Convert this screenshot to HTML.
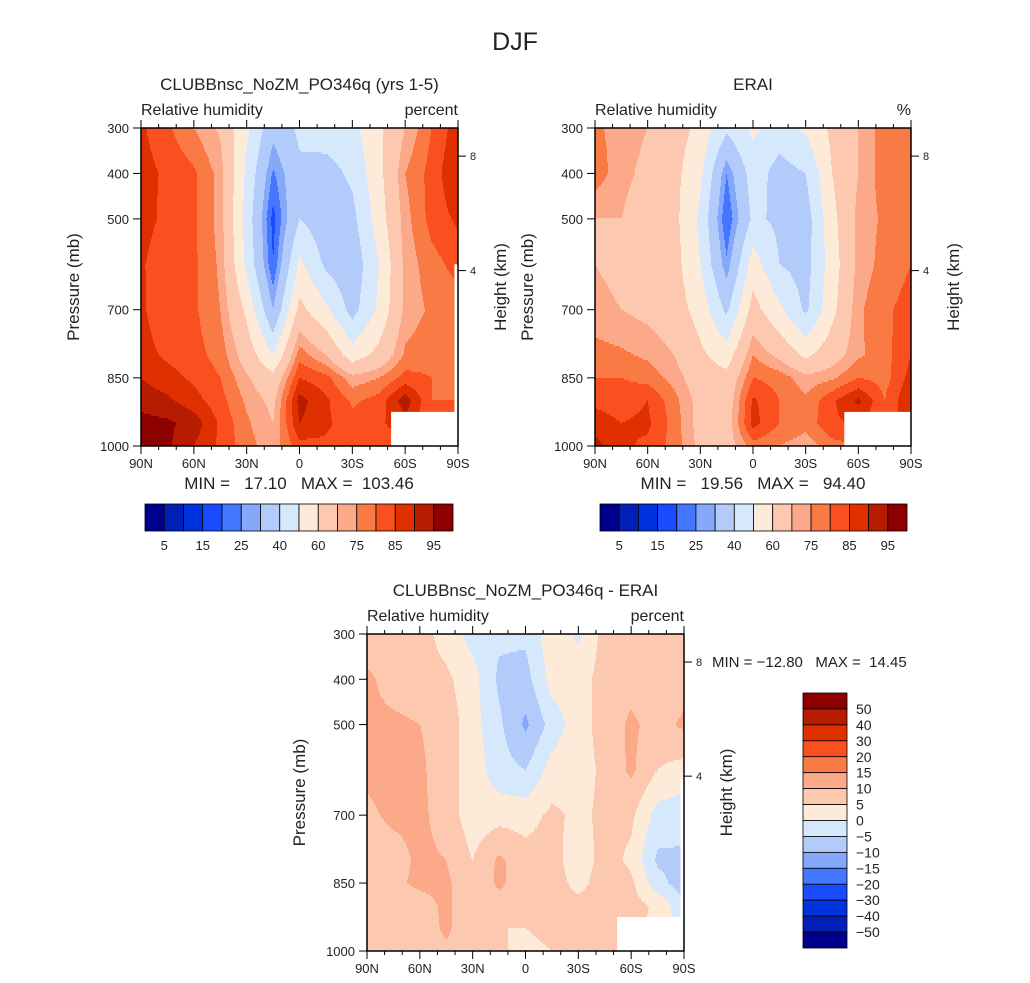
<!DOCTYPE html>
<html><head><meta charset="utf-8"><style>
body{margin:0;background:#fff;}
svg{display:block;font-family:"Liberation Sans",sans-serif;}
text{white-space:pre;}
</style></head><body>
<svg id="root" width="1030" height="983" viewBox="0 0 1030 983" xmlns="http://www.w3.org/2000/svg">
<rect width="1030" height="983" fill="#fff"/>
<text x="515" y="50" font-size="25" text-anchor="middle" fill="#222">DJF</text>
<g id="layer"></g>
</svg>
<script>
const lats = [90,75,60,45,30,15,0,-15,-30,-45,-60,-75,-90];
const levels = [300,400,500,600,700,800,850,900,950,1000];
const rhBounds = [5,10,15,20,25,30,40,50,60,70,75,80,85,90,95];
const diffBounds = [-50,-40,-30,-20,-15,-10,-5,0,5,10,15,20,30,40,50];
const palette = ["#00008f","#0020b8","#0033dd","#1a4cff","#4477ff","#85a8fa","#b3cbfa","#d6e8fc","#feead8","#fdc8b0","#fca98a","#fa7a45","#fa5020","#e03000","#b81c00","#8c0000"];
const latTickLabels = ["90N","60N","30N","0","30S","60S","90S"];
const pTickLabels = [300,400,500,700,850,1000];
const modelRH = [
[86,81,75,69,52,33,42,45,47,58,70,80,88],
[87,84,81,73,48,24,38,36,42,57,75,82,90],
[88,83,81,73,46,18,40,34,37,55,73,82,86],
[86,80,81,74,48,20,52,38,33,50,72,78,82],
[86,81,81,75,58,30,63,52,36,52,72,76,77],
[87,84,82,78,66,50,78,70,55,63,76,78,78],
[90,87,84,80,71,63,85,82,72,75,82,80,78],
[93,91,87,82,74,68,92,86,79,82,93,80,80],
[97,96,93,84,76,70,90,86,82,84,88,80,80],
[98,96,90,84,77,72,83,84,82,83,82,80,80]];
const eraiRH = [
[76,73,70,65,57,42,52,45,52,62,70,78,78],
[78,72,68,63,52,25,45,36,40,60,70,78,80],
[70,70,65,63,48,20,42,38,35,57,72,76,80],
[70,68,66,64,50,26,55,40,36,55,72,77,80],
[72,70,68,65,56,38,64,52,38,57,74,79,82],
[77,76,74,70,62,55,75,68,58,66,74,78,85],
[80,80,78,73,65,63,80,78,72,74,80,78,87],
[84,83,85,77,67,65,86,80,76,84,91,80,90],
[87,85,86,78,67,66,87,80,77,84,86,80,90],
[92,86,84,78,68,66,78,75,72,78,80,80,90]];
const diffRH = [
[7,7,7,3,-2,-4,-4,3,-1,7,9,8,9],
[11,8,7,6,2,-6,-7,2,3,7,8,5,8],
[11,11,10,8,2,-4,-11,-3,3,7,11,8,11],
[11,12,11,7,3,-3,-5,2,3,6,11,5,3],
[9,11,11,8,2,3,3,6,4,6,6,-2,-3],
[8,8,11,10,5,11,7,7,2,7,4,-6,-6],
[7,9,11,11,6,11,7,8,3,8,6,-3,-8],
[8,7,8,11,6,8,6,8,7,8,7,4,-4],
[8,8,7,11,6,5,5,7,8,7,6,4,-2],
[9,8,7,9,7,6,3,5,8,7,7,4,2]];
const stats = [["17.10","103.46"],["19.56","94.40"],["-12.80","14.45"]];

const NS="http://www.w3.org/2000/svg";
const layer=document.getElementById('layer');
function mk(tag,attrs,parent){const e=document.createElementNS(NS,tag);for(const k in attrs)e.setAttribute(k,attrs[k]);(parent||layer).appendChild(e);return e;}
function txt(s,x,y,size,anchor,parent,name){const t=mk('text',{x:x,y:y,'font-size':size,'text-anchor':anchor||'start',fill:'#222'},parent);t.textContent=s;


return t;}
function interp(data,lat,p){
  let fi=(90-lat)/15; fi=Math.max(0,Math.min(lats.length-1.0001,fi)); const i=Math.floor(fi),fx=fi-i;
  let j=0; while(j<levels.length-2 && p>levels[j+1]) j++;
  const fy=Math.max(0,Math.min(1,(p-levels[j])/(levels[j+1]-levels[j])));
  const a=data[j][i]*(1-fx)+data[j][i+1]*fx, b=data[j+1][i]*(1-fx)+data[j+1][i+1]*fx;
  return a*(1-fy)+b*fy;}
function cls(v,bounds){let k=0;while(k<bounds.length&&v>=bounds[k])k++;return k;}

function panel(o){
  const g=mk('g',{});
  
  
  const X=lat=>o.x0+(90-lat)/180*(o.x1-o.x0);
  const Y=p=>o.y0+(p-300)/700*(o.y1-o.y0);
  const step=2;
  for(let y=o.y0;y<o.y1;y+=step){
    const p=300+(y+step/2-o.y0)/(o.y1-o.y0)*700;
    let runStart=o.x0, runC=-1;
    for(let x=o.x0;x<=o.x1;x++){
      let c=-2;
      if(x<o.x1){const lat=90-(x+0.5-o.x0)/(o.x1-o.x0)*180;c=cls(interp(o.data,lat,p),o.bounds);}
      if(c!==runC){ if(runC>=0){const r=mk('rect',{x:runStart,y:y,width:x-runStart,height:Math.min(step,o.y1-y)+0.3,fill:palette[runC]},g);
        
        }
        runStart=x;runC=c;}
    }
  }
  const m=mk('rect',{x:X(-52),y:Y(925),width:X(-90)-X(-52),height:Y(1000)-Y(925),fill:'#fff'},g);
  
  
  if(o.strip){const s=mk('rect',{x:X(-88),y:Y(o.strip),width:X(-90)-X(-88),height:Y(1000)-Y(o.strip),fill:'#fff'},g);
    
    }
  const fr=mk('rect',{x:o.x0,y:o.y0,width:o.x1-o.x0,height:o.y1-o.y0,fill:'none',stroke:'#000','stroke-width':1.5},g);
  
  
  for(let lat=90;lat>=-90;lat-=10){const major=lat%30===0;const x=X(lat);const L=major?8:4;
    mk('line',{x1:x,y1:o.y1,x2:x,y2:o.y1+L,stroke:'#000','stroke-width':1},g);
    mk('line',{x1:x,y1:o.y0,x2:x,y2:o.y0-L,stroke:'#000','stroke-width':1},g);}
  latTickLabels.forEach((s,k)=>{txt(s,X(90-30*k),o.y1+22,13,'middle',g,'lat-tick-label');});
  pTickLabels.forEach(p=>{mk('line',{x1:o.x0-8,y1:Y(p),x2:o.x0,y2:Y(p),stroke:'#000'},g);txt(String(p),o.x0-12,Y(p)+5,13,'end',g,'pressure-tick-label');});
  [[8,0.09],[4,0.45]].forEach(([h,f])=>{const y=o.y0+f*(o.y1-o.y0)-0.5; mk('line',{x1:o.x1,y1:y,x2:o.x1+8,y2:y,stroke:'#000'},g);txt(String(h),o.x1+12,y+4,11,'start',g,'height-tick-label');});
  const cy=(o.y0+o.y1)/2;
  const pl=txt('Pressure (mb)',0,0,17,'middle',g,'y-axis-title');pl.setAttribute('transform',`translate(${o.x0-62},${cy}) rotate(-90)`);
  const hl=txt('Height (km)',0,0,17,'middle',g,'right-axis-title');hl.setAttribute('transform',`translate(${o.x1+48},${cy}) rotate(-90)`);
  txt(o.title,(o.x0+o.x1)/2,o.y0-38,17,'middle',g,'panel-title');
  txt('Relative humidity',o.x0,o.y0-13,16,'start',g,'variable-label');
  txt(o.units,o.x1,o.y0-13,16,'end',g,'units-label');
  return {X,Y};
}
function hbar(x0,y0,w,h,bounds){
  const g=mk('g',{});
  
  
  const bw=w/palette.length;
  palette.forEach((c,k)=>{const r=mk('rect',{x:x0+k*bw,y:y0,width:bw,height:h,fill:c,stroke:'#000','stroke-width':0.8},g);
    
    });
  bounds.forEach((b,k)=>{if(k%2===0)txt(String(b),x0+(k+1)*bw,y0+h+19,13,'middle',g,'colorbar-label');});
}
const p1={name:'model-panel',x0:141,x1:458,y0:128,y1:446,data:modelRH,bounds:rhBounds,title:'CLUBBnsc_NoZM_PO346q (yrs 1-5)',units:'percent',strip:600};
const p2={name:'erai-panel',x0:595,x1:911,y0:128,y1:446,data:eraiRH,bounds:rhBounds,title:'ERAI',units:'%'};
const p3={name:'difference-panel',x0:367,x1:684,y0:634,y1:951,data:diffRH,bounds:diffBounds,title:'CLUBBnsc_NoZM_PO346q - ERAI',units:'percent',strip:620};
panel(p1);panel(p2);panel(p3);
txt(`MIN =   ${stats[0][0]}   MAX =  ${stats[0][1]}`,299,489,17,'middle',layer,'min-max-model');
txt(`MIN =   ${stats[1][0]}   MAX =   ${stats[1][1]}`,753,489,17,'middle',layer,'min-max-erai');
txt(`MIN = ${stats[2][0].replace('-','\u2212')}   MAX =  ${stats[2][1]}`,712,667,15,'start',layer,'min-max-diff');
hbar(145,504,308,27,rhBounds);
hbar(600,504,307,27,rhBounds);
(function(){
  const g=mk('g',{});
  
  
  const x0=803,y0=693,w=44,h=255,bh=h/palette.length;
  palette.slice().reverse().forEach((c,k)=>{const r=mk('rect',{x:x0,y:y0+k*bh,width:w,height:bh,fill:c,stroke:'#000','stroke-width':0.8},g);
    
    });
  diffBounds.slice().reverse().forEach((b,k)=>{txt(String(b).replace('-','\u2212'),856,y0+(k+1)*bh+5,14,'start',g,'colorbar-label');});
})();
</script>
</body></html>
